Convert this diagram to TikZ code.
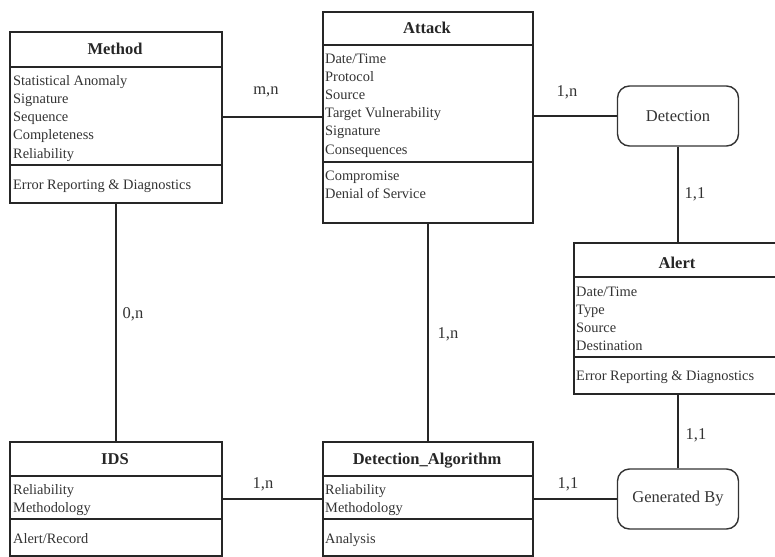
\documentclass[tikz,border=0pt]{standalone}
\usepackage{fontspec}
\setmainfont{Liberation Serif}
\begin{document}
\begin{tikzpicture}[x=1pt,y=-1pt,
  ink/.style={draw=black!85, line width=1.8pt},
  entbox/.style={ink, rectangle, inner sep=0pt, anchor=north west},
  relbox/.style={draw=black!80, line width=1.4pt, rectangle, rounded corners=12pt,
    inner sep=0pt, minimum width=121pt, minimum height=60pt,
    font=\fontsize{16.5}{18}\selectfont, text=black!80},
  rule/.style={ink},
  wire/.style={ink},
  title/.style={font=\fontsize{16.5}{18}\selectfont\bfseries, text=black!85, anchor=base, inner sep=0pt},
  attr/.style={font=\fontsize{14.4}{18}\selectfont, text=black!80, anchor=base west, inner sep=0pt},
  card/.style={font=\fontsize{16.5}{18}\selectfont, text=black!80, anchor=base, inner sep=0pt},
]
\useasboundingbox (0,0) rectangle (775,556);

% ---------- Method ----------
\node[entbox, minimum width=212pt, minimum height=171pt] (method) at (9,31) {};
\draw[rule] (9,67) -- (221,67);
\draw[rule] (9,165) -- (221,165);
\node[title] (method-t) at (115,55) {Method};
\foreach \t [count=\i from 0] in {Statistical Anomaly, Signature, Sequence, Completeness, Reliability}
  \node[attr] (method-a\i) at (13,{86+18*\i}) {\t};
\node[attr] (method-o) at (13,189) {Error Reporting \& Diagnostics};

% ---------- Attack ----------
\node[entbox, minimum width=210pt, minimum height=211pt] (attack) at (322,11) {};
\draw[rule] (322,45) -- (532,45);
\draw[rule] (322,162) -- (532,162);
\node[title] (attack-t) at (427,34) {Attack};
\foreach \t [count=\i from 0] in {Date/Time, Protocol, Source, Target Vulnerability, Signature, Consequences}
  \node[attr] (attack-a\i) at (325,{64+18*\i}) {\t};
\node[attr] (attack-o1) at (325,180) {Compromise};
\node[attr] (attack-o2) at (325,198) {Denial of Service};

% ---------- Alert ----------
\node[entbox, minimum width=208pt, minimum height=151pt] (alert) at (573,242) {};
\draw[rule] (573,277) -- (781,277);
\draw[rule] (573,357) -- (781,357);
\node[title] (alert-t) at (677,268) {Alert};
\foreach \t [count=\i from 0] in {Date/Time, Type, Source, Destination}
  \node[attr] (alert-a\i) at (576,{296+18*\i}) {\t};
\node[attr] (alert-o) at (576,380) {Error Reporting \& Diagnostics};

% ---------- IDS ----------
\node[entbox, minimum width=212pt, minimum height=114pt] (ids) at (9,441) {};
\draw[rule] (9,476) -- (221,476);
\draw[rule] (9,519) -- (221,519);
\node[title] (ids-t) at (115,464) {IDS};
\node[attr] (ids-a0) at (13,494) {Reliability};
\node[attr] (ids-a1) at (13,512) {Methodology};
\node[attr] (ids-o) at (13,543) {Alert/Record};

% ---------- Detection_Algorithm ----------
\node[entbox, minimum width=210pt, minimum height=114pt] (algo) at (322,441) {};
\draw[rule] (322,476) -- (532,476);
\draw[rule] (322,519) -- (532,519);
\node[title] (algo-t) at (427,464) {Detection\_Algorithm};
\node[attr] (algo-a0) at (325,494) {Reliability};
\node[attr] (algo-a1) at (325,512) {Methodology};
\node[attr] (algo-o) at (325,543) {Analysis};

% ---------- Relationships ----------
\node[relbox] (detection) at (678,116) {Detection};
\node[relbox] (generated) at (678,499) {Generated By};

% ---------- Connectors ----------
\draw[wire] (method.east) -- (attack.west);
\draw[wire] (attack.east |- detection.west) -- (detection.west);
\draw[wire] (detection.south) -- (detection.south |- alert.north);
\draw[wire] (method.south) -- (ids.north);
\draw[wire] (attack.south) -- (algo.north);
\draw[wire] (ids.east) -- (algo.west);
\draw[wire] (algo.east |- generated.west) -- (generated.west);
\draw[wire] (generated.north) -- (generated.north |- alert.south);

% ---------- Cardinalities ----------
\node[card] (c1) at (266,95) {m,n};
\node[card] (c2) at (567,97) {1,n};
\node[card] (c3) at (695,198) {1,1};
\node[card] (c4) at (133,318) {0,n};
\node[card] (c5) at (448,338) {1,n};
\node[card] (c6) at (263,488) {1,n};
\node[card] (c7) at (568,488) {1,1};
\node[card] (c8) at (696,439) {1,1};
\end{tikzpicture}
\end{document}
